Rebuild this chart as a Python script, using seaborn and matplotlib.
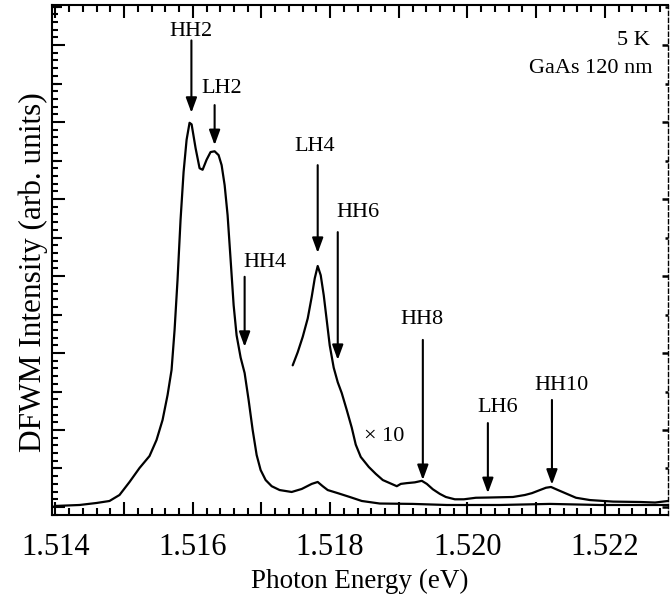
import numpy as np
import pandas as pd
import matplotlib
matplotlib.use("Agg")
import matplotlib.pyplot as plt
from matplotlib.ticker import NullFormatter, FixedLocator, FixedFormatter
import seaborn as sns

# ---------------- data ----------------
energy_main = [1.513985, 1.514350, 1.514598, 1.514787, 1.514933, 1.515079, 1.515224,
               1.515370, 1.515472, 1.515560, 1.515633, 1.515691, 1.515735, 1.515778,
               1.515822, 1.515866, 1.515910, 1.515953, 1.515983, 1.516041, 1.516099,
               1.516143, 1.516201, 1.516259, 1.516318, 1.516376, 1.516420, 1.516464,
               1.516507, 1.516551, 1.516595, 1.516638, 1.516697, 1.516755, 1.516813,
               1.516872, 1.516930, 1.516988, 1.517061, 1.517149, 1.517265, 1.517440,
               1.517586, 1.517732, 1.517819, 1.517892, 1.517965, 1.518111, 1.518286,
               1.518461, 1.518723, 1.519204, 1.519700, 1.520472, 1.521201, 1.521930,
               1.522921]
intensity_main = [0.013, 0.026, 0.052, 0.078, 0.156, 0.325, 0.506,
                  0.662, 0.870, 1.13, 1.455, 1.78, 2.30, 2.95,
                  3.73, 4.35, 4.77, 4.99, 4.97, 4.66, 4.40,
                  4.38, 4.51, 4.61, 4.62, 4.57, 4.44, 4.18,
                  3.79, 3.21, 2.62, 2.23, 1.94, 1.74, 1.39,
                  1.00, 0.675, 0.48, 0.35, 0.27, 0.22, 0.195,
                  0.234, 0.30, 0.325, 0.27, 0.22, 0.18, 0.13,
                  0.078, 0.045, 0.04, 0.026, 0.026, 0.04, 0.026,
                  0.026]

energy_x10 = [1.517455, 1.517528, 1.517601, 1.517674, 1.517732, 1.517776, 1.517819,
              1.517863, 1.517907, 1.517950, 1.517994, 1.518052, 1.518111, 1.518169,
              1.518242, 1.518315, 1.518373, 1.518446, 1.518563, 1.518665, 1.518767,
              1.518869, 1.518971, 1.519029, 1.519117, 1.519233, 1.519335, 1.519408,
              1.519496, 1.519598, 1.519685, 1.519816, 1.519948, 1.520122, 1.520312,
              1.520662, 1.520837, 1.520939, 1.521055, 1.521143, 1.521216, 1.521318,
              1.521449, 1.521580, 1.521784, 1.522120, 1.522513, 1.522732, 1.522921]
intensity_x10 = [1.84, 2.01, 2.21, 2.45, 2.73, 2.97, 3.13,
                 3.01, 2.75, 2.43, 2.10, 1.81, 1.62, 1.48,
                 1.26, 1.03, 0.81, 0.65, 0.52, 0.43, 0.35,
                 0.31, 0.27, 0.30, 0.31, 0.32, 0.34, 0.30,
                 0.23, 0.17, 0.13, 0.10, 0.10, 0.12, 0.123,
                 0.13, 0.156, 0.18, 0.22, 0.25, 0.26, 0.22,
                 0.17, 0.12, 0.09, 0.07, 0.065, 0.058, 0.078]

peak_labels = ["HH2", "LH2", "HH4", "LH4", "HH6", "HH8", "LH6", "HH10"]
peak_energy = [1.51598, 1.516318, 1.516755, 1.517819, 1.518111, 1.519350, 1.520297, 1.521230]

xtick_values = [1.514, 1.515, 1.516, 1.517, 1.518, 1.519, 1.520, 1.521, 1.522]
xtick_labels = ["1.514", "", "1.516", "", "1.518", "", "1.520", "", "1.522"]

# ---------------- layout (arrow tips/tails and label positions) ----------------
arrow_tip = [5.12, 4.70, 2.08, 3.30, 1.91, 0.35, 0.18, 0.29]
arrow_tail = [6.06, 5.22, 2.99, 4.44, 3.57, 2.17, 1.09, 1.39]
label_xy = [(1.51598, 6.17), (1.516420, 5.44), (1.517047, 3.18), (1.517776, 4.68),
            (1.518402, 3.83), (1.519335, 2.43), (1.520443, 1.29), (1.521376, 1.58)]

x_minor = [round(1.5140 + 0.0002 * i, 4) for i in range(45)]
y_minor = [round(-0.1 + 0.1 * i, 2) for i in range(67)]
y_major = [0, 1, 2, 3, 4, 5, 6]
y_half = [0.5, 1.5, 2.5, 3.5, 4.5, 5.5, 6.5]

# ---------------- plot ----------------
sns.set_theme(style="ticks")
plt.rcParams["font.family"] = ["Liberation Serif", "DejaVu Serif"]

fig = plt.figure(figsize=(6.7, 5.96), dpi=100)
ax = fig.add_axes([52 / 670, 81 / 596, 616 / 670, 510 / 596])

df_main = pd.DataFrame({"E": energy_main, "I": intensity_main})
df_x10 = pd.DataFrame({"E": energy_x10, "I": intensity_x10})
sns.lineplot(data=df_main, x="E", y="I", ax=ax, color="black", lw=1.6,
             estimator=None, sort=False)
sns.lineplot(data=df_x10, x="E", y="I", ax=ax, color="black", lw=1.6,
             estimator=None, sort=False)

ax.set_xlim(1.51395, 1.52292)
ax.set_ylim(-0.104, 6.52)

ax.xaxis.set_major_locator(FixedLocator(xtick_values))
ax.xaxis.set_major_formatter(FixedFormatter(xtick_labels))
ax.xaxis.set_minor_locator(FixedLocator(x_minor))
ax.tick_params(axis="x", which="major", direction="in", length=9.5, width=1.5,
               top=True, bottom=True, labelsize=22, pad=13, colors="black")
ax.tick_params(axis="x", which="minor", direction="in", length=5, width=1.5,
               top=True, bottom=True, colors="black")

ax.yaxis.set_major_locator(FixedLocator(y_major))
ax.yaxis.set_minor_locator(FixedLocator(y_minor))
ax.yaxis.set_major_formatter(NullFormatter())
ax.yaxis.set_minor_formatter(NullFormatter())
ax.tick_params(axis="y", which="major", direction="in", length=9.5, width=1.5,
               left=True, right=False, colors="black")
ax.tick_params(axis="y", which="minor", direction="in", length=4.5, width=1.5,
               left=True, right=False, colors="black")


def tick_axis(loc, ticks, length, width):
    sec = ax.secondary_yaxis(loc)
    sec.set_yticks(ticks)
    sec.yaxis.set_major_formatter(NullFormatter())
    sec.tick_params(direction="in", length=length, width=width, colors="black")
    sec.spines[loc].set_visible(False)
    return sec


tick_axis("left", y_half, 7, 1.5)
tick_axis("right", y_major, 4.5, 1.8)
tick_axis("right", y_half, 2.5, 1.8)

for s in ["left", "bottom", "top"]:
    ax.spines[s].set_linewidth(1.5)
    ax.spines[s].set_color("black")
ax.spines["right"].set_linewidth(1.0)
ax.spines["right"].set_linestyle((0, (3, 2)))
ax.spines["right"].set_color("black")

ax.set_xlabel("Photon Energy (eV)", fontsize=19.5, color="black")
ax.xaxis.set_label_coords(0.5, -0.105)
ax.set_ylabel("DFWM Intensity (arb. units)", fontsize=22.5, color="black")
ax.yaxis.set_label_coords(-0.0065, 0.476)

for lab, e, tip, tail, (tx, ty) in zip(peak_labels, peak_energy, arrow_tip, arrow_tail, label_xy):
    ax.annotate("", xy=(e, tip), xytext=(e, tail),
                arrowprops=dict(arrowstyle="-|>,head_length=0.6,head_width=0.22",
                                lw=1.5, color="black", shrinkA=0, shrinkB=0,
                                mutation_scale=15))
    ax.text(tx, ty, lab, ha="center", va="center", fontsize=16, color="black")

ax.text(1.518781, 0.91, "× 10", ha="center", va="center", fontsize=16, color="black")
ax.text(1.522659, 6.06, "5 K", ha="right", va="center", fontsize=16, color="black")
ax.text(1.522688, 5.69, "GaAs 120 nm", ha="right", va="center", fontsize=16, color="black")

fig.savefig("out.png", dpi=100)
